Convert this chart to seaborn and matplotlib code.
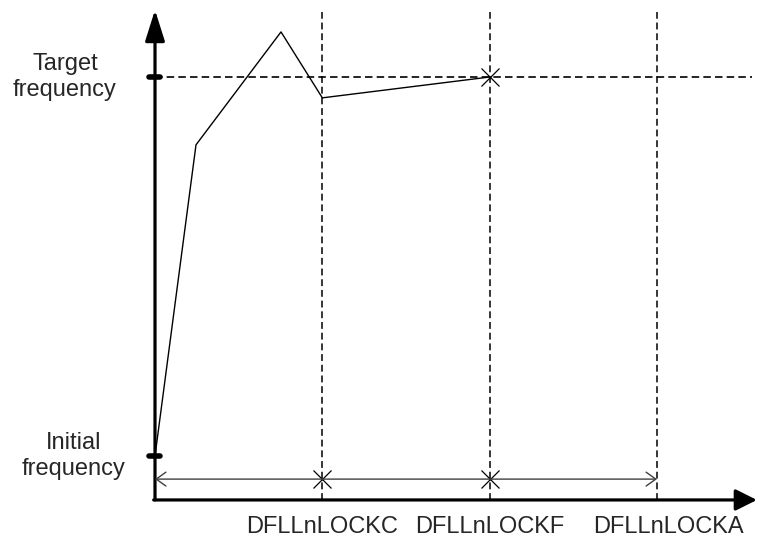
import matplotlib
matplotlib.use("Agg")
import matplotlib.pyplot as plt
import seaborn as sns

# --- data ---
lock_names = ["DFLLnLOCKC", "DFLLnLOCKF", "DFLLnLOCKA"]
lock_times = [1.0, 2.0, 3.0]
lock_label_x = [1.0, 2.0, 3.07]

# frequency curve (0 = initial, 1 = target)
curve_t = [0.0, 0.245, 0.753, 1.0, 2.0]
curve_f = [0.0, 0.821, 1.119, 0.945, 1.0]

freq_levels = [0.0, 1.0]
freq_labels = ["Initial\nfrequency", "Target\nfrequency"]
freq_label_x = [-0.484, -0.538]

# markers where lock is reached
mark_t = [1.0, 2.0, 2.0]
mark_f = [-0.061, -0.061, 1.0]

sns.set_style("white")
plt.rcParams["font.family"] = ["Liberation Sans", "DejaVu Sans"]

fig = plt.figure(figsize=(7.58, 5.38), dpi=100)
ax = fig.add_axes([0, 0, 1, 1])
ax.set_xlim(-0.9263, 3.6036)
ax.set_ylim(-0.2164, 1.2032)
ax.set_axis_off()

y_axis_bottom = -0.116
y_axis_top = 1.177
x_axis_end = 3.597

# axes with arrows
ax.annotate("", xy=(0, y_axis_top), xytext=(0, y_axis_bottom),
            arrowprops=dict(arrowstyle="-|>,head_length=19,head_width=6", mutation_scale=1,
                            lw=2.3, color="black", shrinkA=0, shrinkB=0))
ax.annotate("", xy=(x_axis_end, y_axis_bottom), xytext=(-0.008, y_axis_bottom),
            arrowprops=dict(arrowstyle="-|>,head_length=13,head_width=6.5", mutation_scale=1,
                            lw=2.3, color="black", shrinkA=0, shrinkB=0))

# lock time dashed lines
ax.vlines(lock_times, y_axis_bottom, 1.1715, colors="black", lw=1.1,
          linestyles=(0, (4.5, 2.5)))
# target frequency dashed line
ax.hlines(1.0, 0, 3.568, colors="black", lw=1.2, linestyles=(0, (4.5, 2.5)))

# thick tick marks on the frequency axis
ax.hlines(freq_levels, -0.038, 0.032, colors="black", lw=4, capstyle="round")

# frequency curve
sns.lineplot(x=curve_t, y=curve_f, ax=ax, color="black", lw=1.0,
             sort=False, estimator=None)

# time span arrow
ax.annotate("", xy=(lock_times[-1], -0.061), xytext=(0, -0.061),
            arrowprops=dict(arrowstyle="<->,head_length=7,head_width=5", mutation_scale=1,
                            lw=1.0, color="#404040", shrinkA=0, shrinkB=0))

ax.plot(mark_t, mark_f, ls="none", marker="x", ms=13, mew=0.9, color="black")

for name, x in zip(lock_names, lock_label_x):
    ax.text(x, -0.187, name, ha="center", va="center", fontsize=17)

for lab, x, y in zip(freq_labels, freq_label_x, freq_levels):
    ax.text(x, y, lab, ha="center", va="center", fontsize=17, linespacing=1.2,
            multialignment="center")

fig.savefig("out.png", dpi=100, facecolor="white")
